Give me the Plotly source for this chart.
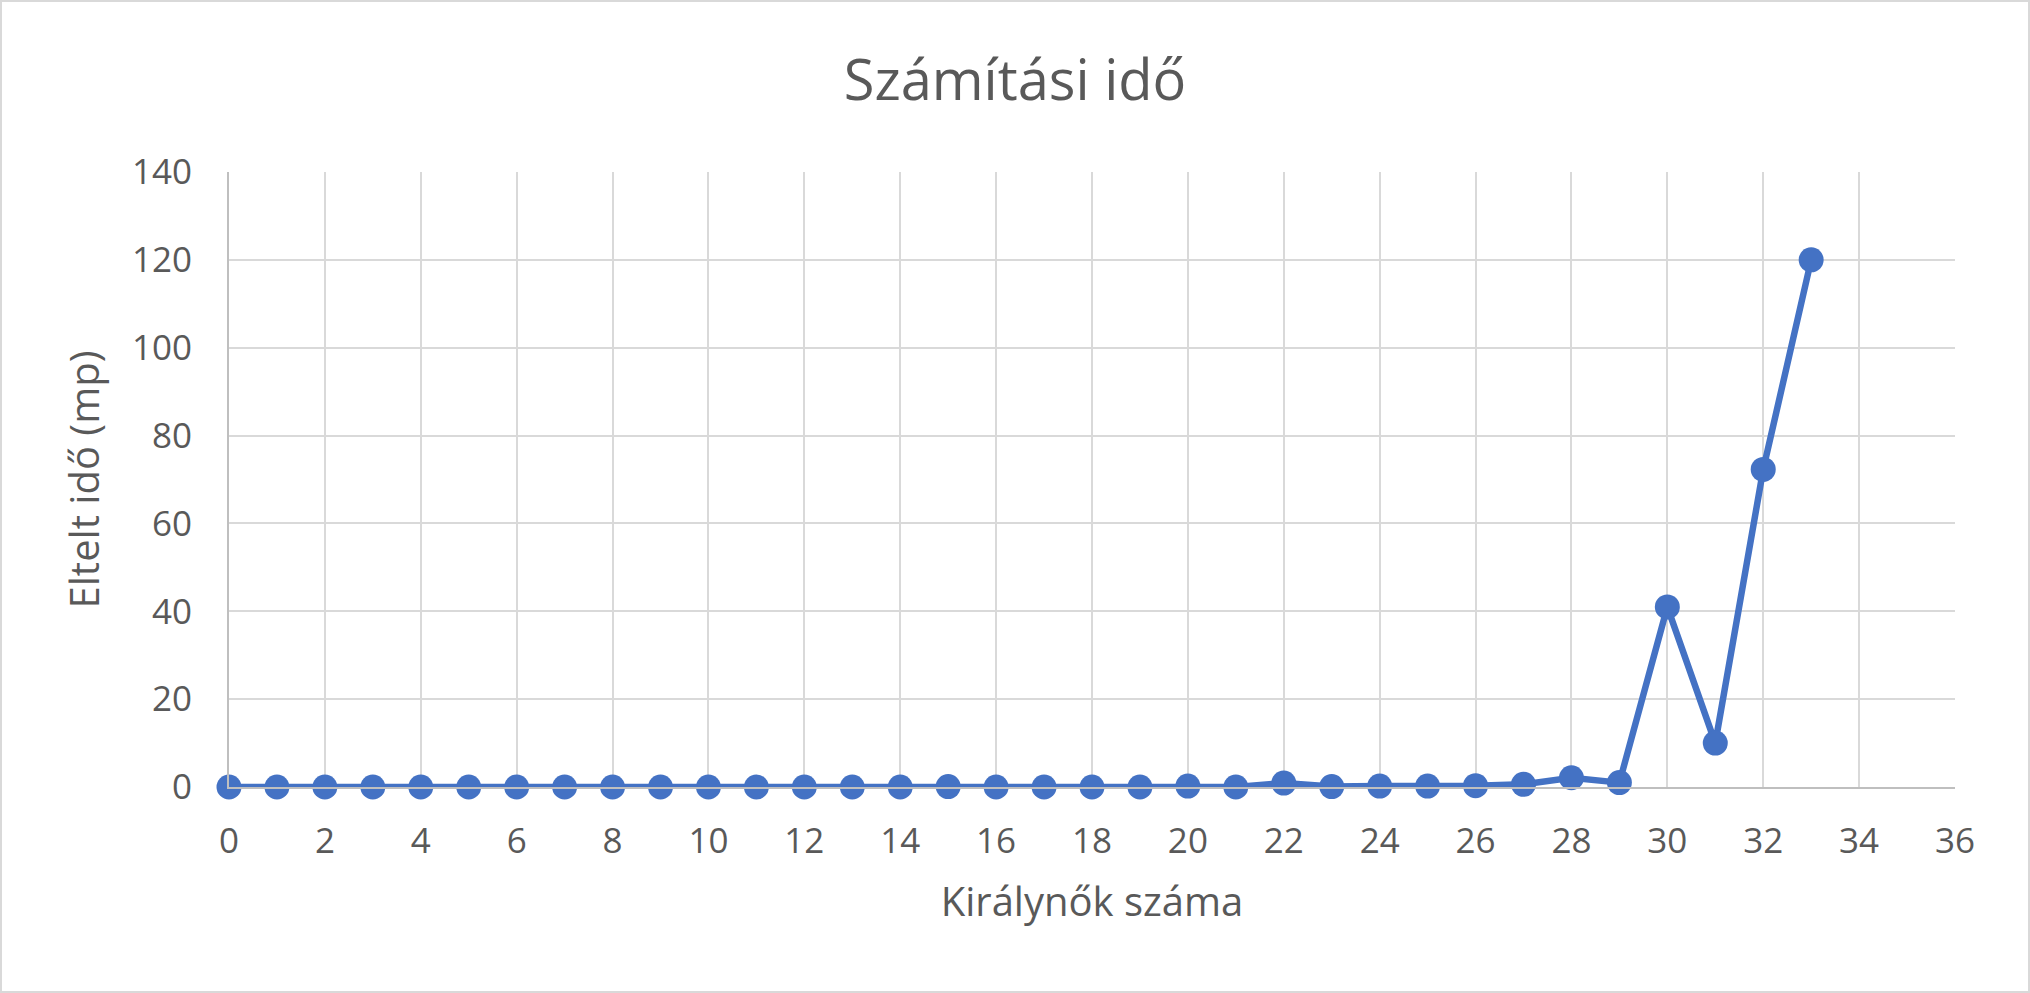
import plotly.graph_objects as go

queens = list(range(0, 34))
elapsed = [0, 0, 0, 0, 0, 0, 0, 0, 0, 0,
           0, 0, 0, 0, 0, 0.1, 0, 0, 0, 0,
           0.2, 0, 0.9, 0.1, 0.2, 0.2, 0.3, 0.6, 2.1, 1.0,
           41.0, 10.0, 72.3, 120.0]

title_text = "Számítási idő"
x_title = "Királynők száma"
y_title = "Eltelt idő (mp)"

W, H = 2030, 993
ML, MR, MT, MB = 229, 75, 172, 206
font = "Open Sans, Lato, sans-serif"
txt = "#595959"
grid = "#D9D9D9"
axis = "#BFBFBF"
blue = "#4472C4"

fig = go.Figure()
fig.add_trace(go.Scatter(
    x=queens, y=elapsed, mode="lines+markers",
    line=dict(color=blue, width=6.5),
    marker=dict(color=blue, size=25),
    showlegend=False, cliponaxis=False,
))

pw = W - ML - MR
ph = H - MT - MB
fig.add_shape(type="rect", xref="paper", yref="paper",
              x0=(1 - ML) / pw, x1=(W - ML - 1) / pw,
              y0=-(MB - 1) / ph, y1=(H - MB - 1) / ph,
              line=dict(color=grid, width=2), layer="below")

fig.update_layout(
    width=W, height=H,
    margin=dict(l=ML, r=MR, t=MT, b=MB),
    paper_bgcolor="white", plot_bgcolor="white",
    font=dict(family=font, color=txt),
    title=dict(text=title_text, x=0.5, xref="container", xanchor="center",
               y=1 - 80 / H, yref="container", yanchor="middle",
               font=dict(size=56, color=txt, family=font)),
    xaxis=dict(range=[0, 36], dtick=2, tick0=0, showgrid=True,
               gridcolor=grid, gridwidth=2, zeroline=False,
               showline=True, linecolor=axis, linewidth=2,
               ticks="", tickfont=dict(size=35, color=txt),
               ticklabelstandoff=22,
               title=dict(text=x_title, font=dict(size=40, color=txt), standoff=26)),
    yaxis=dict(range=[0, 140], dtick=20, tick0=0, showgrid=True,
               gridcolor=grid, gridwidth=2, zeroline=False,
               showline=True, linecolor=axis, linewidth=2,
               ticks="", tickfont=dict(size=35, color=txt),
               ticklabelstandoff=28,
               title=dict(text=y_title, font=dict(size=40, color=txt), standoff=20)),
)

fig.write_html("out.html")
